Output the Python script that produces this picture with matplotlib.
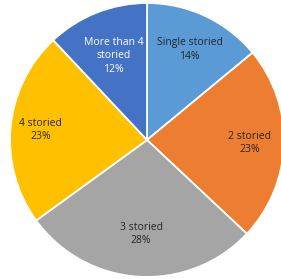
import matplotlib.pyplot as plt
import numpy as np

labels = ["Single storied", "2 storied", "3 storied", "4 storied", "More than 4\nstoried"]
shares = [14, 23, 28, 23, 12]
colors = ["#5B9BD5", "#ED7D31", "#A5A5A5", "#FFC000", "#4472C4"]
text_colors = ["#262626", "#262626", "#262626", "#262626", "white"]
label_r = [0.73, 0.75, 0.69, 0.78, 0.66]

fig = plt.figure(figsize=(2.81, 2.79), dpi=100)
ax = fig.add_axes([0, 0, 1, 1])

wedges, _ = ax.pie(shares, colors=colors, startangle=90, counterclock=False,
                   wedgeprops=dict(edgecolor="white", linewidth=1.3))

for w, lab, val, tc, r in zip(wedges, labels, shares, text_colors, label_r):
    mid = np.deg2rad((w.theta1 + w.theta2) / 2)
    ax.text(r * np.cos(mid), r * np.sin(mid), f"{lab}\n{val}%", ha="center", va="center",
            fontsize=7.5, color=tc, family="Open Sans", linespacing=1.3)

ax.set_aspect("auto")
ax.set_xlim(-1.073, 0.978)
ax.set_ylim(-1.015, 1.022)
ax.axis("off")

fig.savefig("out.png", dpi=100)
